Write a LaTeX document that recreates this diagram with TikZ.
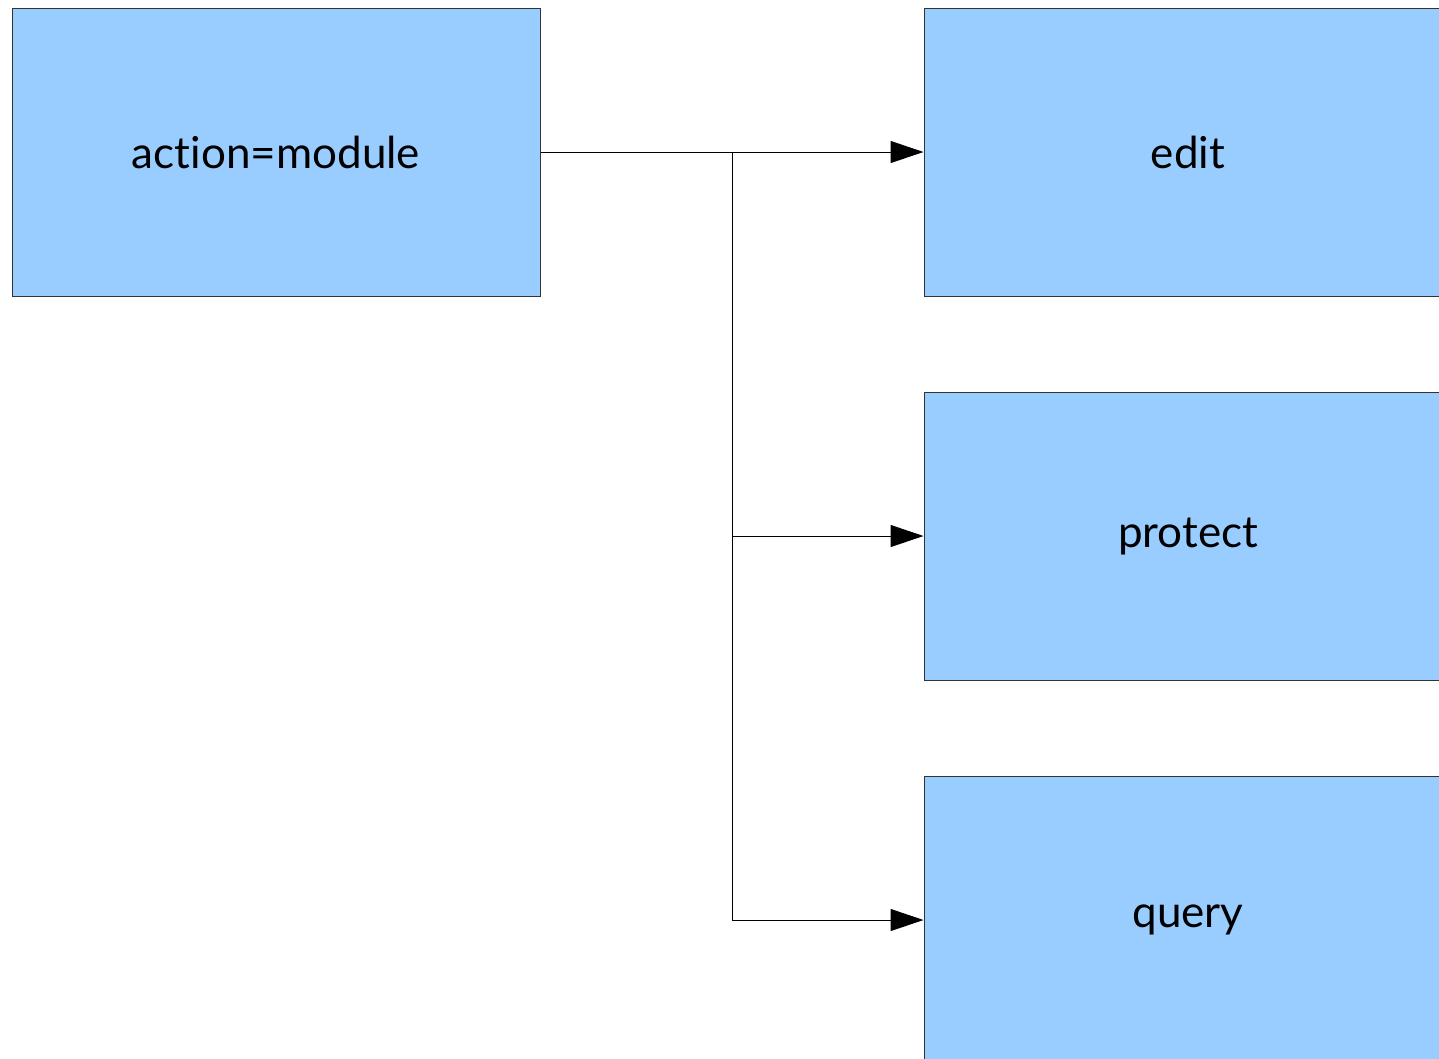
\documentclass[tikz,border=0pt]{standalone}
\usepackage{fontspec}
\setmainfont{Lato}[Ligatures={NoCommon,NoRare}]
\usetikzlibrary{arrows.meta}
\definecolor{boxblue}{HTML}{99CCFF}
\definecolor{boxedge}{HTML}{333333}
\tikzset{
  box/.style={draw=boxedge, line width=1pt, fill=boxblue, minimum width=528pt, minimum height=288pt, inner sep=0pt, font=\fontsize{44}{48}\selectfont, text=black, anchor=center},
  conn/.style={draw=black, line width=1pt},
  arr/.style={conn, -{Triangle[length=33pt, width=22pt]}}
}
\begin{document}
\begin{tikzpicture}[x=1pt, y=-1pt]
\useasboundingbox (0,0) rectangle (1439,1058);
\clip (0,0) rectangle (1439,1058);
\node[box] (src) at (276,152) {action=module};
\node[box] (edit) at (1188,152) {edit};
\node[box] (protect) at (1188,536) {protect};
\node[box] (query) at (1188,920) {query};
\coordinate (j) at (732,152);
\draw[arr] (src.east) -- (edit.west);
\draw[arr] (j) |- (protect.west);
\draw[arr] (j) |- (query.west);
\end{tikzpicture}
\end{document}
